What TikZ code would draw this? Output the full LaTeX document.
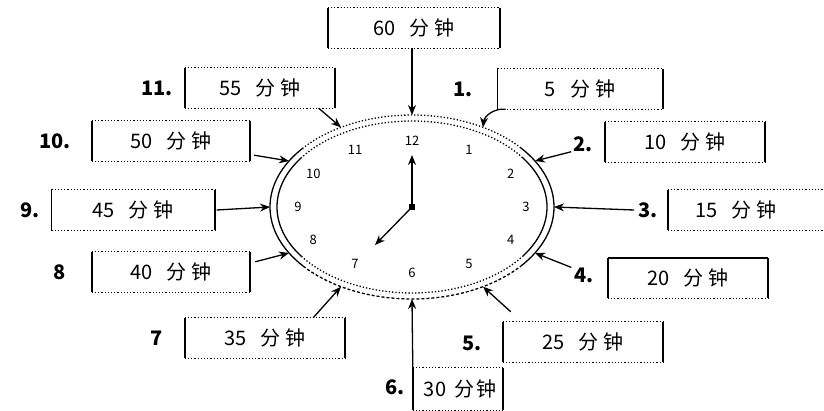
\documentclass[tikz,border=0pt]{standalone}
\usepackage{fontspec}
\setmainfont{Noto Sans CJK SC}
\usetikzlibrary{arrows.meta,calc}
\newcommand{\mybracket}[1]{%
  \draw[side] (#1.north west) -- (#1.south west);
  \draw[side] (#1.north east) -- (#1.south east);
  \draw[dotline] (#1.north west) -- (#1.north east);
  \draw[dotline] (#1.south west) -- (#1.south east);}
\newcommand{\mn}[1]{#1\hspace{14pt}分\hspace{5pt}钟}
\begin{document}
\begin{tikzpicture}[x=1pt,y=1pt,
  lbl/.style={minimum height=40pt, minimum width=160pt, inner sep=0pt, font=\fontsize{20}{22}\selectfont},
  pre/.style={font=\fontsize{20}{22}\selectfont\bfseries, inner sep=0pt},
  num/.style={font=\fontsize{13}{14}\selectfont, inner sep=1pt},
  arr/.style={line width=1.3pt, -{Stealth[length=10pt,width=8pt]}},
  side/.style={line width=1.6pt},
  dotline/.style={line width=1.2pt, dotted},
  ring/.style={line width=1.3pt},
  ringdot/.style={line width=1.3pt, dotted},
  ringdash/.style={line width=1.3pt, densely dashed}
]
\useasboundingbox (0,0) rectangle (824,410);
\coordinate (c) at (412,203);

% clock ring
\draw[ring] (c) ++(140:142pt and 92pt) arc[start angle=140,end angle=220,x radius=142pt,y radius=92pt];
\draw[ring] (c) ++(145:135pt and 86pt) arc[start angle=145,end angle=215,x radius=135pt,y radius=86pt];
\draw[ring] (c) ++(-40:142pt and 92pt) arc[start angle=-40,end angle=40,x radius=142pt,y radius=92pt];
\draw[ring] (c) ++(-35:135pt and 86pt) arc[start angle=-35,end angle=35,x radius=135pt,y radius=86pt];
\draw[ringdot] (c) ++(40:142pt and 92pt) arc[start angle=40,end angle=140,x radius=142pt,y radius=92pt];
\draw[ringdot] (c) ++(35:135pt and 86pt) arc[start angle=35,end angle=145,x radius=135pt,y radius=86pt];
\draw[ringdash] (c) ++(220:142pt and 92pt) arc[start angle=220,end angle=320,x radius=142pt,y radius=92pt];
\draw[ringdot] (c) ++(215:135pt and 86pt) arc[start angle=215,end angle=325,x radius=135pt,y radius=86pt];

% ring points and numbers
\foreach \k in {1,...,12}{
  \coordinate (r\k) at ($(c)+({90-30*\k}:142pt and 92pt)$);
  \node[num] (n\k) at ($(c)+({90-30*\k}:114pt and 66pt)$) {\k};
}

% hands
\coordinate (hm) at (412,255);
\coordinate (hh) at (375,165);
\draw[arr] (c) -- (hm);
\draw[arr] (c) -- (hh);
\node[fill=black, minimum size=6pt, inner sep=0pt] (ctr) at (c) {};

% labels
\node[lbl, minimum width=172pt] (b60) at (414,382) {\mn{60}};
\node[lbl, minimum width=150pt] (b11) at (260,322) {\mn{55}};
\node[pre] (p11) at (157,322) {11.};
\node[lbl, minimum width=165pt] (b1) at (580,321) {\mn{5}};
\node[pre] (p1) at (463,321) {1.};
\node[lbl, minimum width=158pt] (b10) at (171,269) {\mn{50}};
\node[pre] (p10) at (55,269) {10.};
\node[lbl] (b2) at (685,268) {\mn{10}};
\node[pre] (p2) at (583,266) {2.};
\node[lbl, minimum width=163pt] (b9) at (133,200) {\mn{45}};
\node[pre] (p9) at (30,200) {9.};
\node[lbl, minimum width=156pt] (b3) at (746,200) {\hspace{-20pt}\mn{15}};
\node[pre] (p3) at (648,200) {3.};
\node[lbl, minimum width=158pt] (b8) at (171,138) {\mn{40}};
\node[pre] (p8) at (60,138) {8};
\node[lbl] (b4) at (688,132) {\mn{20}};
\node[pre] (p4) at (584,135) {4.};
\node[lbl] (b7) at (265,72) {\mn{35}};
\node[pre] (p7) at (157,72) {7};
\node[lbl] (b5) at (583,68) {\mn{25}};
\node[pre] (p5) at (472,67) {5.};
\node[lbl, minimum width=90pt, minimum height=42pt] (b6) at (458,21) {\hspace{4pt}30\hspace{8pt}分\hspace{2pt}钟};
\node[pre] (p6) at (395,23) {6.};

% brackets
\foreach \b in {b60,b11,b1,b10,b2,b9,b8,b7,b5,b6}{\mybracket{\b}}
\draw[side] (b3.north west) -- (b3.south west);
\draw[dotline] (b3.north west) -- (b3.north east);
\draw[dotline] (b3.south west) -- (b3.south east);
\draw[side] (b4.north west) -- (b4.south west);
\draw[side] (b4.north east) -- (b4.south east);
\draw[side] (b4.north west) -- (b4.north east);
\draw[dotline] (b4.south west) -- (b4.south east);

% connectors
\draw[arr] (b60.south -| c) -- (r12);
\draw[arr] ($(b11.south west)!0.89!(b11.south east)$) -- (r11);
\draw[arr] ($(b1.south west)!0.05!(b1.south east)$) to[bend right=45] (r1);
\draw[arr] ($(b10.south east)+(4,6)$) -- (r10);
\draw[arr] ($(p2.south west)+(-2,0)$) -- (r2);
\draw[arr] ($(b9.east)+(2,0)$) -- (r9);
\draw[arr] ($(p3.west)+(-4,0)$) -- (r3);
\draw[arr] ($(b8.north east)+(5,-10)$) -- (r8);
\draw[arr] ($(p4.north west)+(-3,0)$) -- (r4);
\draw[arr] ($(b7.north west)!0.8!(b7.north east)$) -- (r7);
\draw[arr] ($(b5.north west)+(8,10)$) -- (r5);
\draw[arr] (b6.north west) -- (r6);
\end{tikzpicture}
\end{document}
